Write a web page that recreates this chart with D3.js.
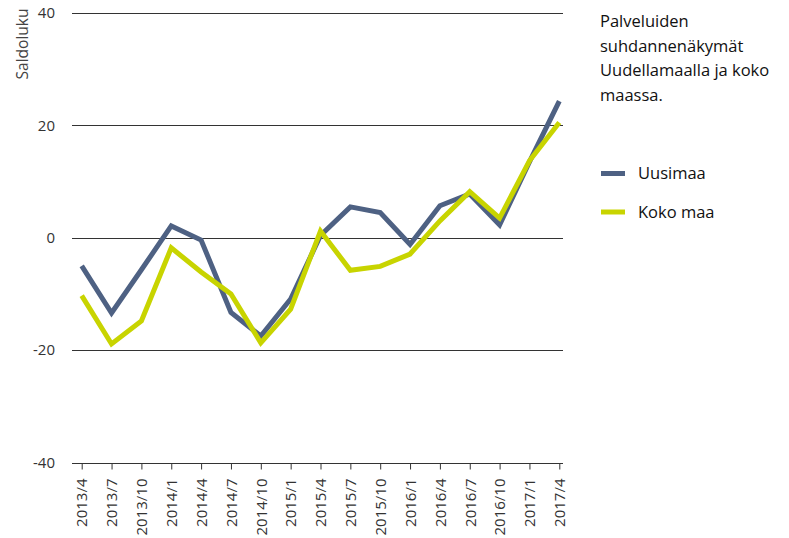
<!DOCTYPE html>
<html>
<head>
<meta charset="utf-8">
<script src="https://cdn.jsdelivr.net/npm/d3@7/dist/d3.min.js"></script>
<style>
  html, body { margin: 0; padding: 0; background: #fff; }
  svg { display: block; font-family: "Open Sans", "Noto Sans", sans-serif; }
</style>
</head>
<body>
<svg id="chart" width="789" height="538"></svg>
<script>
// Quarterly periods
const quarters = ["2013/4","2013/7","2013/10","2014/1","2014/4","2014/7","2014/10",
  "2015/1","2015/4","2015/7","2015/10","2016/1","2016/4","2016/7","2016/10","2017/1","2017/4"];

// Balance figures (saldoluku)
const uusimaa = [-5, -13.4, -5.7, 2.1, -0.4, -13.3, -17.5, -10.9, 0.4, 5.5, 4.5, -1.2, 5.7, 7.8, 2.3, 13.5, 24.3];
const kokoMaa = [-10.3, -18.9, -14.8, -1.8, -6.1, -10.0, -18.7, -12.7, 1.2, -5.8, -5.1, -2.9, 3.0, 8.2, 3.5, 13.7, 20.5];

const yTicks = [-40, -20, 0, 20, 40];
const seriesNames = ["Uusimaa", "Koko maa"];
const seriesColors = ["#4e6183", "#c8d400"];
const titleLines = ["Palveluiden", "suhdannenäkymät", "Uudellamaalla ja koko", "maassa."];

const svg = d3.select("#chart");

const plotLeft = 72, plotRight = 563;
const x = d3.scalePoint().domain(quarters).range([81.7, 559.3]);
const y = d3.scaleLinear().domain([-40, 40]).range([462.5, 13]);

// Horizontal grid lines
svg.append("g")
  .selectAll("line")
  .data(yTicks.filter(d => d !== -40))
  .join("line")
  .attr("x1", plotLeft).attr("x2", plotRight)
  .attr("y1", d => Math.round(y(d)) + 0.5).attr("y2", d => Math.round(y(d)) + 0.5)
  .attr("stroke", "#333").attr("stroke-width", 1);

// Y tick labels
svg.append("g")
  .selectAll("text")
  .data(yTicks)
  .join("text")
  .attr("x", 55).attr("y", d => y(d))
  .attr("dy", "0.35em")
  .attr("text-anchor", "end")
  .attr("font-size", 15)
  .attr("fill", "#333")
  .text(d => d);

// Y axis title
svg.append("text")
  .attr("transform", "translate(28,44) rotate(-90)")
  .attr("text-anchor", "middle")
  .attr("font-size", 15.5)
  .attr("fill", "#444")
  .text("Saldoluku");

// X axis
const xAxis = svg.append("g")
  .attr("transform", `translate(0,${Math.round(y(-40)) + 0.5})`)
  .call(d3.axisBottom(x).tickSize(6).tickSizeOuter(0));
xAxis.select(".domain").remove();
xAxis.append("line")
  .attr("x1", plotLeft).attr("x2", plotRight)
  .attr("stroke", "#333");
xAxis.selectAll(".tick line").attr("stroke", "#333");
xAxis.selectAll(".tick text")
  .attr("transform", "rotate(-90)")
  .attr("text-anchor", "end")
  .attr("x", -15).attr("y", 0).attr("dy", "0.35em")
  .attr("font-size", 15)
  .attr("font-family", "'Open Sans', 'Noto Sans', sans-serif")
  .attr("fill", "#333");

// Series lines
const line = d3.line().x((d, i) => x(quarters[i])).y(d => y(d));
[uusimaa, kokoMaa].forEach((vals, i) => {
  svg.append("path")
    .datum(vals)
    .attr("d", line)
    .attr("fill", "none")
    .attr("stroke", seriesColors[i])
    .attr("stroke-width", 5)
    .attr("stroke-linejoin", "miter");
});

// Title
svg.append("g")
  .selectAll("text")
  .data(titleLines)
  .join("text")
  .attr("x", 600).attr("y", (d, i) => 27 + i * 24.5)
  .attr("font-size", 16.5)
  .attr("fill", "#111")
  .text(d => d);

// Legend
const legend = svg.append("g")
  .selectAll("g")
  .data(seriesNames)
  .join("g")
  .attr("transform", (d, i) => `translate(601,${173.5 + i * 38.5})`);
legend.append("line")
  .attr("x1", 0).attr("x2", 24)
  .attr("stroke", (d, i) => seriesColors[i])
  .attr("stroke-width", 5);
legend.append("text")
  .attr("x", 37).attr("dy", "0.35em")
  .attr("font-size", 16.5)
  .attr("fill", "#111")
  .text(d => d);
</script>
</body>
</html>
